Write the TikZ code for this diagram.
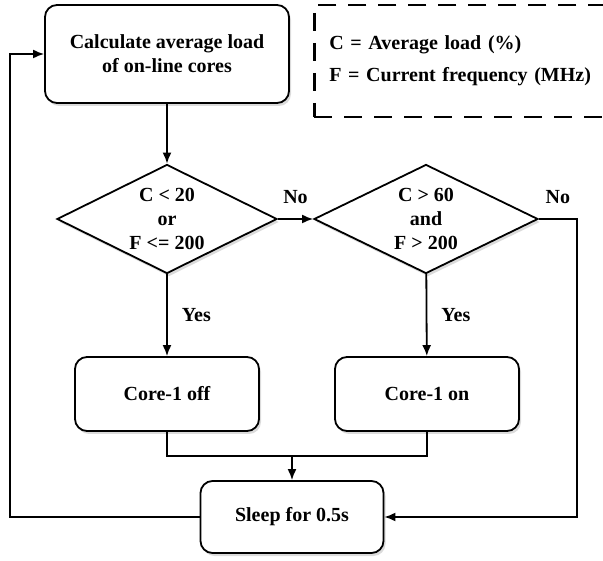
\documentclass[tikz,border=0pt]{standalone}
\usepackage{fontspec}
\setmainfont{Liberation Serif}
\usetikzlibrary{positioning, shapes.geometric, arrows.meta, shadows}

\begin{document}
\begin{tikzpicture}[x=1pt, y=-1pt, line width=1.8pt, >={Latex[length=11pt,width=9pt]},
    font=\fontsize{20}{24}\selectfont\bfseries,
    shade/.style={drop shadow={shadow xshift=2pt, shadow yshift=-3pt, fill=black!28}},
    box/.style={draw, rectangle, rounded corners=12pt, fill=white, align=center, inner sep=0pt, shade},
    decision/.style={draw, diamond, aspect=2, fill=white, align=center, inner sep=0pt, minimum height=109pt, shade},
    tag/.style={inner sep=2pt}]
    \useasboundingbox (0,0) rectangle (603,561);
    \node [box, minimum width=244pt, minimum height=98pt] (calc_load) at (167,54) {Calculate average load\\of on-line cores};
    \node [draw, dashed, dash pattern=on 18pt off 12pt, line width=2.5pt, anchor=west, text width=270pt, inner xsep=15pt,
        minimum height=112pt, align=left] (legend) at (313,61) {C = Average load (\%)\\[8pt]F = Current frequency (MHz)};
    \node [decision, minimum width=220pt] (cond_off) at (167,219) {C < 20\\or\\F <= 200};
    \node [decision, minimum width=224pt] (cond_on) at (426,219) {C > 60\\and\\F > 200};
    \node [box, minimum width=184pt, minimum height=74pt] (core_off) at (167,394) {Core-1 off};
    \node [box, minimum width=184pt, minimum height=74pt] (core_on) at (427,394) {Core-1 on};
    \node [box, minimum width=183pt, minimum height=72pt] (sleep) at (292,517) {Sleep for 0.5s};
    \coordinate (join) at (292,456);
    \coordinate (right_turn) at (577,219);
    \coordinate (left_turn) at (10,517);
    \draw [->] (calc_load) -- (cond_off);
    \draw [->] (cond_off) -- node [tag, above=12pt] {No} (cond_on);
    \draw [->] (cond_off) -- node [tag, right=12pt] {Yes} (core_off);
    \draw [->] (cond_on) -- node [tag, right=12pt] {Yes} (core_on);
    \draw (core_off) |- (join) -| (core_on);
    \draw [->] (join) -- (sleep);
    \draw [->] (cond_on) -- node [tag, above=12pt] {No} (right_turn) |- (sleep);
    \draw [->] (sleep) -- (left_turn) |- (calc_load);
  \end{tikzpicture}
\end{document}
